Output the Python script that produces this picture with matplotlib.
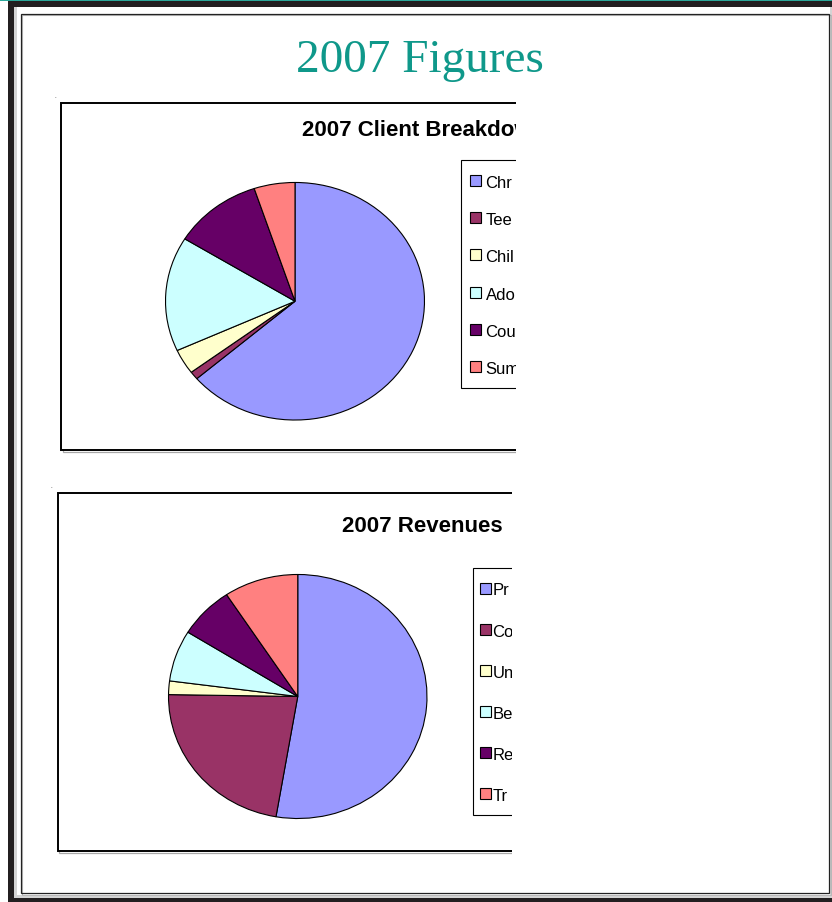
import matplotlib
matplotlib.use("Agg")
import matplotlib.pyplot as plt
from matplotlib.patches import Rectangle

W, H = 832, 903

page_title = "2007 Figures"

# top chart (legend labels are cut off at the box edge in the original)
client_title = "2007 Client Breakdown"
client_labels = ["Chr", "Tee", "Chil", "Ado", "Cou", "Sum"]
client_values = [63.7, 1.1, 3.4, 15.6, 11.1, 5.1]

# bottom chart
revenue_title = "2007 Revenues"
revenue_labels = ["Pr", "Co", "Un", "Be", "Re", "Tr"]
revenue_values = [52.8, 22.6, 1.8, 6.8, 6.9, 9.3]

slice_colors = ["#9999FF", "#993366", "#FFFFCC", "#CCFFFF", "#660066", "#FF8080"]

fig = plt.figure(figsize=(W / 100, H / 100), dpi=100)

# background axes in pixel coordinates
bg = fig.add_axes([0, 0, 1, 1])
bg.set_xlim(0, W)
bg.set_ylim(H, 0)
bg.axis("off")


def px_axes(x0, y0, x1, y1):
    return fig.add_axes([x0 / W, 1 - y1 / H, (x1 - x0) / W, (y1 - y0) / H])


# page frame
dark = "#231F20"
bg.add_patch(Rectangle((0, 0), W, 1.6, fc="#2BA89A", ec="none"))
bg.add_patch(Rectangle((8, 2), W - 8, 6, fc=dark, ec="none"))
bg.add_patch(Rectangle((8, 2), 6, H - 2, fc=dark, ec="none"))
bg.add_patch(Rectangle((8, 899), W - 8, 4, fc=dark, ec="none"))
bg.add_patch(Rectangle((14, 8), 2.5, 891, fc="#d4d4d4", ec="none"))
bg.add_patch(Rectangle((14, 896), W - 14, 3, fc="#d4d4d4", ec="none"))
bg.add_patch(Rectangle((830, 8), 2, 891, fc="#d4d4d4", ec="none"))
bg.add_patch(Rectangle((22, 16), 808.5, 880, fc="none", ec="#b8b8b8", lw=0.8))
bg.add_patch(Rectangle((20.5, 14.5), 808.5, 880, fc="none", ec="#222222", lw=0.9))

bg.text(420, 72, page_title, ha="center", va="baseline", fontsize=34,
        family="Liberation Serif", color="#0F988A")
bg.text(55, 97, ".", fontsize=4, ha="center", va="center")
bg.text(51, 487, ".", fontsize=4, ha="center", va="center")


def chart_panel(box, cut, title, title_xy, labels, values, pie_box,
                leg_box, leg_rows, swatch_x, text_x):
    x0, y0, y1 = box
    bg.add_patch(Rectangle((x0 + 1.5, y0 + 1.5), 700, y1 - y0, fc="none",
                           ec="#a8a8a8", lw=0.9, zorder=2))
    bg.add_patch(Rectangle((x0, y0), 700, y1 - y0, fc="white",
                           ec="black", lw=1.4, zorder=2.5))
    bg.text(title_xy[0], title_xy[1], title, ha="center", va="baseline",
            fontsize=16, fontweight="bold", family="Liberation Sans", zorder=3)

    pax = px_axes(*pie_box)
    pax.pie(values, colors=slice_colors, startangle=90, counterclock=False,
            wedgeprops=dict(edgecolor="black", linewidth=0.8))
    pax.set_aspect("auto")
    pax.set_xlim(-1.004, 1.004)
    pax.set_ylim(-1.004, 1.004)

    # legend, drawn by hand so the cut-off edge can be reproduced
    lx0, ly0, ly1 = leg_box
    bg.add_patch(Rectangle((lx0, ly0), 300, ly1 - ly0, fc="white",
                           ec="black", lw=0.8, zorder=3))
    for i, (lab, col) in enumerate(zip(labels, slice_colors)):
        yc = leg_rows[0] + i * leg_rows[1]
        bg.add_patch(Rectangle((swatch_x, yc - 5.5), 11, 11, fc=col,
                               ec="black", lw=0.8, zorder=4))
        bg.text(text_x, yc + 0.5, lab, ha="left", va="center_baseline",
                fontsize=12, family="Liberation Sans", zorder=4)

    # everything right of the cut is blank in the original
    bg.add_patch(Rectangle((cut, y0 - 6), 826 - cut, y1 - y0 + 12,
                           fc="white", ec="none", zorder=6))


chart_panel((61, 103.5, 451), 515.5, client_title, (424, 136),
            client_labels, client_values, (165, 183, 425, 421.5),
            (460.5, 160.5, 388.5), (181.5, 37.2), 470, 485.5)

chart_panel((57.5, 494, 852), 511.5, revenue_title, (422.5, 532),
            revenue_labels, revenue_values, (168, 575, 427.5, 820),
            (472.5, 568.5, 815.5), (589, 41.2), 480, 492.5)

fig.savefig("out.png", dpi=100)
